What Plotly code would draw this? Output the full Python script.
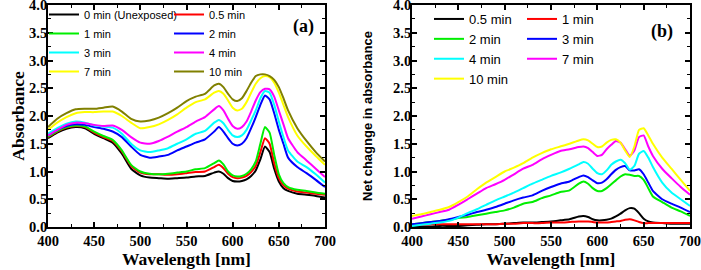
import plotly.graph_objects as go

wavelength = [400,410,420,430,440,450,460,470,480,490,500,510,520,530,540,550,560,570,580,585,
              590,595,600,605,610,615,620,625,630,635,640,645,650,655,660,670,680,690,700]

# Panel (a): absorbance
a_0min  = [1.60,1.70,1.77,1.80,1.78,1.68,1.60,1.52,1.32,1.05,0.93,0.89,0.88,0.87,0.88,0.89,0.91,0.92,0.98,1.00,
           0.96,0.88,0.83,0.82,0.83,0.86,0.92,1.02,1.22,1.45,1.35,1.05,0.82,0.70,0.65,0.60,0.58,0.56,0.53]
a_05min = [1.62,1.72,1.79,1.82,1.80,1.70,1.62,1.55,1.36,1.10,0.98,0.95,0.95,0.94,0.95,0.97,0.99,1.00,1.08,1.12,
           1.06,0.96,0.90,0.88,0.89,0.92,0.99,1.10,1.35,1.60,1.50,1.15,0.88,0.75,0.69,0.64,0.62,0.60,0.58]
a_1min  = [1.63,1.73,1.80,1.83,1.81,1.72,1.64,1.57,1.38,1.12,1.00,0.96,0.95,0.96,0.98,1.00,1.04,1.06,1.15,1.20,
           1.13,1.00,0.93,0.91,0.92,0.96,1.04,1.18,1.50,1.80,1.70,1.30,0.95,0.79,0.72,0.67,0.65,0.62,0.60]
a_2min  = [1.65,1.75,1.82,1.85,1.84,1.80,1.77,1.72,1.62,1.45,1.30,1.25,1.27,1.30,1.38,1.45,1.52,1.58,1.72,1.80,
           1.72,1.60,1.50,1.47,1.50,1.60,1.78,1.98,2.20,2.37,2.30,2.05,1.75,1.50,1.25,1.08,0.97,0.85,0.72]
a_3min  = [1.68,1.78,1.86,1.90,1.88,1.83,1.81,1.79,1.68,1.50,1.38,1.35,1.38,1.42,1.50,1.58,1.68,1.73,1.88,1.93,
           1.87,1.75,1.65,1.62,1.65,1.75,1.92,2.10,2.32,2.45,2.42,2.20,1.90,1.62,1.38,1.18,1.08,0.95,0.80]
a_4min  = [1.65,1.75,1.84,1.88,1.87,1.84,1.82,1.83,1.75,1.62,1.52,1.50,1.55,1.63,1.72,1.80,1.90,1.98,2.12,2.18,
           2.10,1.95,1.82,1.77,1.80,1.90,2.08,2.28,2.43,2.49,2.48,2.35,2.10,1.85,1.60,1.35,1.20,1.05,0.90]
a_7min  = [1.75,1.88,1.98,2.05,2.07,2.07,2.08,2.08,2.00,1.88,1.78,1.80,1.85,1.93,2.03,2.15,2.25,2.30,2.42,2.45,
           2.40,2.28,2.15,2.10,2.13,2.25,2.42,2.58,2.68,2.72,2.70,2.60,2.42,2.20,1.98,1.65,1.45,1.28,1.12]
a_10min = [1.80,1.95,2.05,2.12,2.13,2.13,2.15,2.17,2.08,1.95,1.90,1.92,1.97,2.05,2.15,2.27,2.35,2.40,2.55,2.58,
           2.52,2.40,2.30,2.27,2.32,2.45,2.60,2.72,2.75,2.75,2.72,2.65,2.52,2.32,2.10,1.78,1.55,1.35,1.18]

# Panel (b): net change in absorbance
b_05min = [0.01,0.01,0.01,0.02,0.02,0.02,0.03,0.04,0.05,0.05,0.06,0.07,0.08,0.08,0.09,0.10,0.12,0.14,0.19,0.20,
           0.18,0.14,0.12,0.12,0.13,0.15,0.19,0.24,0.30,0.34,0.33,0.25,0.15,0.10,0.08,0.07,0.06,0.06,0.06]
b_1min  = [0.03,0.04,0.05,0.05,0.05,0.05,0.05,0.05,0.05,0.05,0.06,0.06,0.07,0.07,0.07,0.08,0.08,0.09,0.10,0.10,
           0.10,0.09,0.08,0.08,0.08,0.09,0.10,0.11,0.13,0.14,0.12,0.09,0.07,0.07,0.07,0.07,0.07,0.07,0.07]
b_2min  = [0.05,0.07,0.09,0.11,0.13,0.16,0.18,0.21,0.24,0.27,0.30,0.35,0.42,0.45,0.52,0.57,0.63,0.66,0.78,0.82,
           0.78,0.70,0.65,0.65,0.70,0.77,0.84,0.91,0.95,0.94,0.92,0.92,0.85,0.70,0.55,0.45,0.35,0.28,0.20]
b_3min  = [0.05,0.07,0.09,0.11,0.14,0.18,0.22,0.27,0.31,0.36,0.42,0.48,0.53,0.57,0.65,0.72,0.78,0.82,0.90,0.93,
           0.90,0.84,0.79,0.80,0.86,0.95,1.03,1.08,1.10,1.02,1.02,1.04,0.95,0.80,0.65,0.50,0.42,0.35,0.27]
b_4min  = [0.02,0.04,0.06,0.08,0.11,0.17,0.25,0.32,0.40,0.48,0.55,0.62,0.70,0.78,0.85,0.92,0.98,1.05,1.13,1.17,
           1.14,1.05,0.97,0.95,1.02,1.12,1.18,1.21,1.15,1.03,1.10,1.32,1.37,1.25,1.08,0.80,0.62,0.50,0.38]
b_7min  = [0.15,0.19,0.23,0.27,0.31,0.40,0.50,0.60,0.70,0.77,0.85,0.95,1.05,1.12,1.22,1.30,1.37,1.40,1.44,1.45,
           1.42,1.35,1.28,1.30,1.40,1.48,1.55,1.52,1.40,1.28,1.38,1.62,1.65,1.45,1.28,1.05,0.88,0.72,0.58]
b_10min = [0.20,0.23,0.27,0.31,0.36,0.45,0.55,0.68,0.80,0.90,1.00,1.07,1.15,1.25,1.33,1.40,1.45,1.50,1.56,1.58,
           1.56,1.50,1.44,1.45,1.52,1.57,1.58,1.52,1.38,1.26,1.45,1.75,1.78,1.65,1.50,1.25,1.05,0.85,0.65]

names_a = ["0 min (Unexposed)", "0.5 min", "1 min", "2 min", "3 min", "4 min", "7 min", "10 min"]
series_a = [a_0min, a_05min, a_1min, a_2min, a_3min, a_4min, a_7min, a_10min]
colors_a = ["#000000", "#FF0000", "#00EE00", "#0000FF", "#00FFFF", "#FF00FF", "#FFFF00", "#808000"]
legend_a = ["legend", "legend2", "legend", "legend2", "legend", "legend2", "legend", "legend2"]

names_b = ["0.5 min", "1 min", "2 min", "3 min", "4 min", "7 min", "10 min"]
series_b = [b_05min, b_1min, b_2min, b_3min, b_4min, b_7min, b_10min]
colors_b = ["#000000", "#FF0000", "#00EE00", "#0000FF", "#00FFFF", "#FF00FF", "#FFFF00"]
legend_b = ["legend3", "legend4", "legend3", "legend4", "legend3", "legend4", "legend3"]

fig = go.Figure()
for n, y, c, lg in zip(names_a, series_a, colors_a, legend_a):
    fig.add_trace(go.Scatter(x=wavelength, y=y, name=n, mode="lines",
                             line=dict(color=c, width=2, shape="spline", smoothing=0.5),
                             xaxis="x", yaxis="y", legend=lg))
for n, y, c, lg in zip(names_b, series_b, colors_b, legend_b):
    fig.add_trace(go.Scatter(x=wavelength, y=y, name=n, mode="lines",
                             line=dict(color=c, width=2, shape="spline", smoothing=0.5),
                             xaxis="x2", yaxis="y2", legend=lg))

W, H = 701, 270
serif = "Liberation Serif, Times New Roman, serif"
sans = "Liberation Sans, Arial, sans-serif"

def ax_common(**kw):
    d = dict(showline=True, linecolor="black", linewidth=1.8, mirror="allticks",
             ticks="inside", ticklen=5, tickwidth=1.5, tickcolor="black",
             showgrid=False, zeroline=False, ticklabeloverflow="allow",
             tickfont=dict(family=serif, size=14.5, color="black", weight="bold"),
             minor=dict(ticks="inside", ticklen=3, tickwidth=1.2, tickcolor="black", showgrid=False))
    d.update(kw)
    return d

xd1 = [48 / W, 325 / W]
xd2 = [412 / W, 690 / W]
yd = [1 - 227 / H, 1 - 5 / H]

title_x = dict(text="Wavelength [nm]", font=dict(family=serif, size=17.5, color="black", weight="bold"), standoff=0)

leg_common = dict(xanchor="left", yanchor="top", bgcolor="rgba(0,0,0,0)", tracegroupgap=0, itemwidth=30)

fig.update_layout(
    width=W, height=H, margin=dict(l=0, r=0, t=0, b=0, autoexpand=False),
    paper_bgcolor="white", plot_bgcolor="white",
    xaxis=ax_common(domain=xd1, range=[400, 700], dtick=50, tick0=400, anchor="y",
                    title=title_x, minor_dtick=25),
    yaxis=ax_common(domain=yd, range=[0, 4], dtick=0.5, tickformat=".1f", anchor="x",
                    ticklabelstandoff=-4,
                    title=dict(text="Absorbance", font=dict(family=serif, size=17.5, color="black", weight="bold"), standoff=0),
                    minor_dtick=0.25),
    xaxis2=ax_common(domain=xd2, range=[400, 700], dtick=50, tick0=400, anchor="y2",
                     title=title_x, minor_dtick=25),
    yaxis2=ax_common(domain=yd, range=[0, 4], dtick=0.5, tickformat=".1f", anchor="x2",
                     ticklabelstandoff=-4,
                     title=dict(text="Net chagnge in absorbance", font=dict(family=sans, size=13, color="black", weight="bold"), standoff=18),
                     minor_dtick=0.25),
    legend=dict(x=44 / W, y=1.0, font=dict(family=sans, size=11, color="black"), **leg_common),
    legend2=dict(x=169 / W, y=1.0, font=dict(family=sans, size=11, color="black"), **leg_common),
    legend3=dict(x=429 / W, y=1 - 4 / H, font=dict(family=sans, size=13, color="black"), **leg_common),
    legend4=dict(x=522 / W, y=1 - 4 / H, font=dict(family=sans, size=13, color="black"), **leg_common),
    annotations=[
        dict(text="(a)", xref="paper", yref="paper", x=303 / W, y=1 - 26 / H, showarrow=False,
             xanchor="center", yanchor="middle",
             font=dict(family=serif, size=18, color="black", weight="bold")),
        dict(text="(b)", xref="paper", yref="paper", x=662 / W, y=1 - 32 / H, showarrow=False,
             xanchor="center", yanchor="middle",
             font=dict(family=serif, size=18, color="black", weight="bold")),
    ],
)

fig.write_html("out.html", config={"displayModeBar": False},
               post_script="document.body.style.margin='0';document.body.style.overflow='hidden';")
